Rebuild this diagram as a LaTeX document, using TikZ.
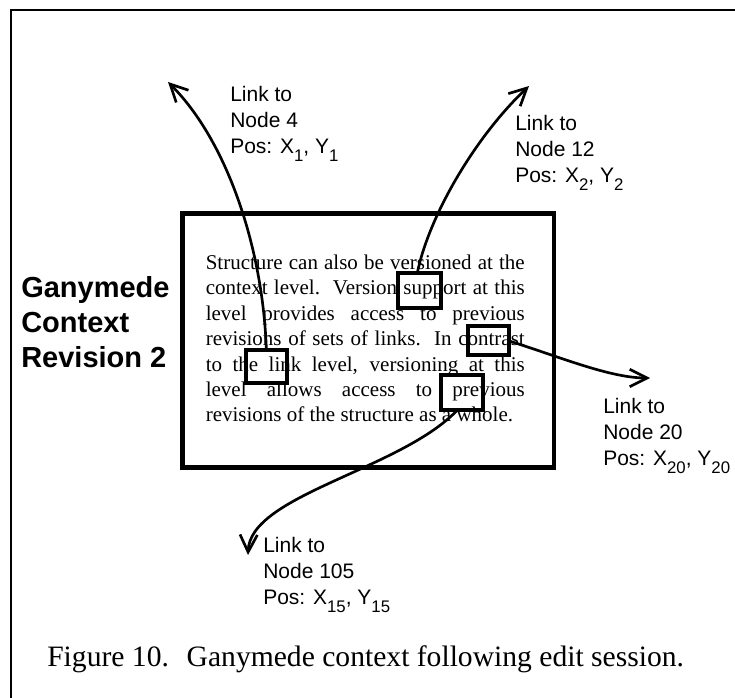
\documentclass[tikz,border=0pt]{standalone}
\usepackage{fontspec}
\setmainfont{Liberation Serif}
\setsansfont{Liberation Sans}
\usetikzlibrary{arrows.meta,fit,calc}

% lowered, slightly smaller index used in the link labels
\newcommand{\lsub}[1]{\raisebox{-6pt}[0pt][0pt]{\fontsize{12.6pt}{12.6pt}\selectfont #1}}
% one justified line of the context text
\newcommand{\jline}[1]{\makebox[\linewidth][s]{#1}}

\begin{document}
\begin{tikzpicture}[x=0.75pt,y=-0.75pt,
  ctxbox/.style={draw, line width=3.4pt, inner sep=0pt, outer sep=0pt},
  hlbox/.style={draw, line width=3pt, inner sep=0pt, outer sep=0pt},
  link/.style={line width=2pt, -{Straight Barb[length=13pt,width=13pt]}},
  lbl/.style={anchor=base west, inner sep=0pt, font=\sffamily\fontsize{15.75pt}{19.5pt}\selectfont},
  title/.style={anchor=base west, inner sep=0pt, font=\sffamily\bfseries\fontsize{21.75pt}{26.25pt}\selectfont},
  caption/.style={anchor=base west, inner sep=0pt, font=\rmfamily\fontsize{22.2pt}{26pt}\selectfont},
  body/.style={anchor=base west, inner sep=0pt}
]
\useasboundingbox (0,0) rectangle (735,698);
\fill[white] (0,0) rectangle (735,698);

% page frame (only its left and top edges fall inside)
\draw[line width=1.9pt] (11,698) -- (11,10) -- (735,10);

% context window
\node[ctxbox, fit={(182.5,213.3) (554,467.5)}] (ctx) {};

% context contents
\node[body] (txt) at (205.5,269.5) {\parbox[t]{239.25pt}{\fontsize{15.75pt}{19.05pt}\selectfont
\jline{Structure can also be versioned at the}\\
\jline{context level.\ \ Version support at this}\\
\jline{level provides access to previous}\\
\jline{revisions of sets of links.\ \ In contrast}\\
\jline{to the link level, versioning at this}\\
\jline{level allows access to previous}\\
revisions of the structure as a whole.}};

% highlighted anchors
\node[hlbox, fit={(245.7,349.7) (287,383)}] (b4) {};
\node[hlbox, fit={(398,272.7) (440.7,308)}] (b12) {};
\node[hlbox, fit={(468,326.3) (508.7,355.3)}] (b20) {};
\node[hlbox, fit={(441.3,375.3) (483,410.3)}] (b105) {};

% side title
\node[title] (ttl) at (21,298) {\begin{tabular}[t]{@{}l@{}}Ganymede\\Context\\Revision 2\end{tabular}};

% link labels
\node[lbl] (n4) at (230,102) {\begin{tabular}[t]{@{}l@{}}Link to\\Node 4\\Pos: X\lsub{1}, Y\lsub{1}\end{tabular}};
\node[lbl] (n12) at (515,131) {\begin{tabular}[t]{@{}l@{}}Link to\\Node 12\\Pos: X\lsub{2}, Y\lsub{2}\end{tabular}};
\node[lbl] (n20) at (603,413) {\begin{tabular}[t]{@{}l@{}}Link to\\Node 20\\Pos: X\lsub{20}, Y\lsub{20}\end{tabular}};
\node[lbl] (n105) at (263,552) {\begin{tabular}[t]{@{}l@{}}Link to\\Node 105\\Pos: X\lsub{15}, Y\lsub{15}\end{tabular}};

% link ends
\coordinate (t4) at (168,82);
\coordinate (t12) at (529,86);
\coordinate (t20) at (650,378);
\coordinate (t105) at (248,555);

% links
\draw[link] (b4.north) .. controls (263,250) and (228,142) .. (t4);
\draw[link] ($(b12.north)+(-2,0)$) .. controls (429,216) and (475,137) .. (t12);
\draw[link] (b20.east) .. controls (560,357) and (610,378) .. (t20);
\draw[link] ($(b105.south)+(-5,0)$) .. controls (400,470) and (250,495) .. (t105);

% caption
\node[caption] (cap) at (47,666) {Figure 10.\hspace{0.6em}Ganymede context following edit session.};
\end{tikzpicture}
\end{document}
